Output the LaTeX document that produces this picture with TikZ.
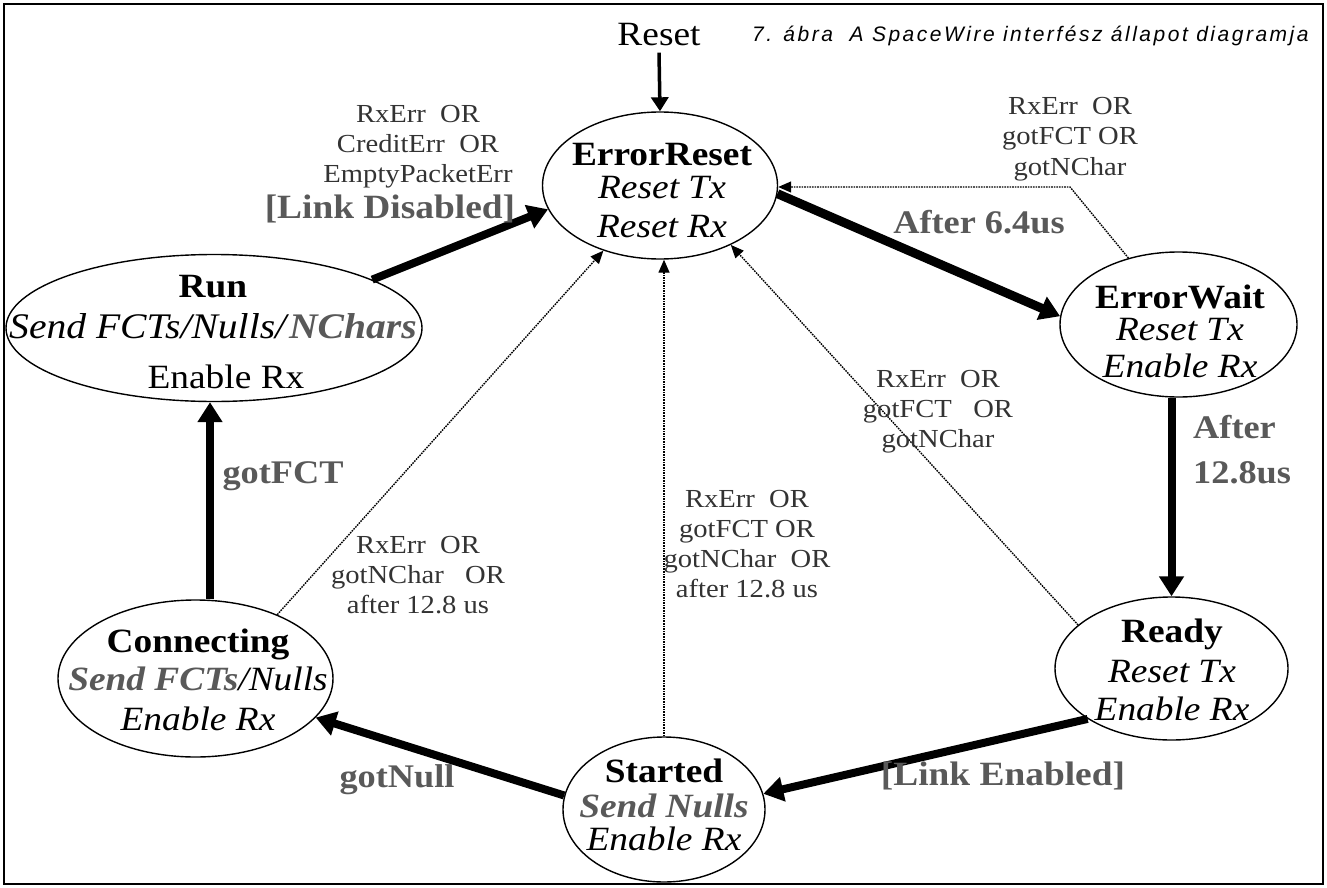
\documentclass[tikz,border=0pt]{standalone}
\usepackage{fontspec}
\setmainfont{Liberation Serif}[FakeStretch=1.1]
\newfontfamily\capfont{Liberation Sans}[LetterSpace=12]
\usetikzlibrary{arrows.meta,shapes.geometric}
\definecolor{lblgray}{HTML}{333333}
\definecolor{trgray}{HTML}{595959}
\begin{document}
\begin{tikzpicture}[x=1pt,y=-1pt,
  state/.style={ellipse,draw,line width=1.4pt,inner sep=0pt},
  stext/.style={align=center,anchor=base,inner sep=0pt,font=\fontsize{34}{37}\selectfont},
  lbl/.style={align=center,anchor=base,inner sep=0pt,text=lblgray,font=\fontsize{26}{30}\selectfont},
  trl/.style={align=center,anchor=base,inner sep=0pt,text=trgray,font=\fontsize{33}{45}\selectfont\bfseries},
  thickarrow/.style={line width=8pt,-{Triangle[width=24pt,length=20pt]}},
  resetarrow/.style={line width=3.5pt,-{Triangle[width=17pt,length=14pt]}},
  dotarrow/.style={line width=1.4pt,dash pattern=on 1.6pt off 1pt,-{Triangle[width=11pt,length=13pt]}}
]
\useasboundingbox (0,0) rectangle (1327,888);
\draw[line width=2pt] (4,4) rectangle (1323,884);

% states
\node[state,minimum width=235pt,minimum height=147pt] (er) at (660,185.5) {};
\node[state,minimum width=237pt,minimum height=145pt] (ew) at (1178.5,324.5) {};
\node[state,minimum width=233pt,minimum height=143pt] (rd) at (1171.5,668.5) {};
\node[state,minimum width=202pt,minimum height=145pt] (st) at (664,809.5) {};
\node[state,minimum width=275pt,minimum height=157pt] (cn) at (195.5,678.5) {};
\node[state,minimum width=416pt,minimum height=147pt] (rn) at (214,328) {};

\node[stext] (ert) at (662,237) {\textbf{ErrorReset}\\[-4pt]\textit{Reset Tx}\\[2pt]\textit{Reset Rx}};
\node[stext] (ewt) at (1180,377) {\textbf{ErrorWait}\\[-5pt]\textit{Reset Tx}\\[0pt]\textit{Enable Rx}};
\node[stext] (rdt) at (1172,720) {\textbf{Ready}\\[3pt]\textit{Reset Tx}\\[1pt]\textit{Enable Rx}};
\node[stext] (stt) at (664,850) {\textbf{Started}\\[-2pt]\textcolor{trgray}{\textbf{\textit{Send Nulls}}}\\[-4pt]\textit{Enable Rx}};
\node[stext] (cnt) at (198,730) {\textbf{Connecting}\\[1pt]\textcolor{trgray}{\textbf{\textit{Send FCTs}}}\textit{/Nulls}\\[3pt]\textit{Enable Rx}};
\node[stext] (rnt) at (213,388) {\textbf{Run}\\[4pt]{\fontsize{36}{37}\selectfont\textit{Send FCTs/Nulls/}\textcolor{trgray}{\textbf{\textit{NChars}}}}\\[13pt]\hspace*{26pt}Enable Rx};

% reset and caption
\node[anchor=base,inner sep=0pt,font=\fontsize{34}{37}\selectfont] (reset) at (659,46) {Reset};
\node[anchor=base west,inner sep=0pt,font=\capfont\fontsize{21}{24}\selectfont\itshape] (cap) at (752,42) {7. ábra\ \ A SpaceWire interfész állapot diagramja};

% connectors
\draw[resetarrow] ([yshift=-6pt]reset.south) -- (er.north);
\draw[thickarrow] (rn.17) -- (er.192);
\draw[thickarrow,line width=9pt] (er.-4) -- (ew.176);
\coordinate (c1) at (1070,187);
\draw[dotarrow] (ew.127) -- (c1) -- (c1 -| er.east);
\draw[thickarrow] (rd.north |- ew.south) -- (rd.north);
\draw[thickarrow] (rd.211) -- (st.9);
\draw[thickarrow] (st.172) -- (cn.-18);
\draw[thickarrow] ([xshift=14.5pt]cn.north) -- ([xshift=-4pt]rn.south);
\draw[dotarrow] (cn.38) -- (er.229);
\draw[dotarrow] (st.north) -- (st.north |- er.south);
\draw[dotarrow] (rd.155) -- (er.-40);

% labels
\node[lbl] (l1) at (418,182) {RxErr\ \ OR\\CreditErr\ \ OR\\EmptyPacketErr};
\node[trl,font=\fontsize{34}{45}\selectfont\bfseries] (l1b) at (390,218) {[Link Disabled]};
\node[trl] (l2) at (979,233) {After 6.4us};
\node[lbl] (l3) at (1070,175) {RxErr\ \ OR\\gotFCT OR\\gotNChar};
\node[trl,align=left,anchor=base west] (l4) at (1193,483) {After\\12.8us};
\node[trl,font=\fontsize{34}{45}\selectfont\bfseries] (l5) at (1003,785) {[Link Enabled]};
\node[trl] (l6) at (397,787) {gotNull};
\node[trl] (l7) at (283,483) {gotFCT};
\node[lbl] (l8) at (418,613) {RxErr\ \ OR\\gotNChar\ \ \ OR\\after 12.8 us};
\node[lbl] (l9) at (747,597) {RxErr\ \ OR\\gotFCT\ OR\\gotNChar\ \ OR\\after 12.8 us};
\node[lbl] (l10) at (938,447) {RxErr\ \ OR\\gotFCT\ \ \ OR\\gotNChar};
\end{tikzpicture}
\end{document}
